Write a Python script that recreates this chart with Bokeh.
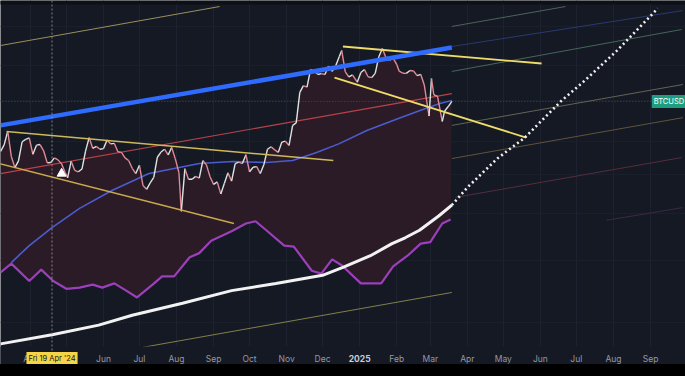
import numpy as np
import pandas as pd
from bokeh.plotting import figure
from bokeh.models import Range1d, FixedTicker, Span, Label, Spacer
from bokeh.layouts import column
from bokeh.core.properties import value
from bokeh.embed import file_html
from bokeh.resources import INLINE

# ---------------- data (BTCUSD, thousands of USD, log price scale) ----------------
price_dates = [
    "2024-03-07", "2024-03-10", "2024-03-13", "2024-03-16", "2024-03-19", "2024-03-22", "2024-03-25", "2024-03-28", "2024-03-31",
    "2024-04-03", "2024-04-06", "2024-04-09", "2024-04-12", "2024-04-15", "2024-04-18", "2024-04-21", "2024-04-24", "2024-04-27", "2024-04-30",
    "2024-05-02", "2024-05-05", "2024-05-08", "2024-05-11", "2024-05-14", "2024-05-17", "2024-05-20", "2024-05-23", "2024-05-26", "2024-05-29",
    "2024-06-01", "2024-06-04", "2024-06-07", "2024-06-10", "2024-06-13", "2024-06-16", "2024-06-19", "2024-06-22", "2024-06-25", "2024-06-28",
    "2024-07-01", "2024-07-04", "2024-07-07", "2024-07-10", "2024-07-13", "2024-07-16", "2024-07-19", "2024-07-22", "2024-07-25", "2024-07-28", "2024-07-31",
    "2024-08-03", "2024-08-05", "2024-08-08", "2024-08-11", "2024-08-14", "2024-08-17", "2024-08-20", "2024-08-23", "2024-08-26", "2024-08-29",
    "2024-09-01", "2024-09-04", "2024-09-07", "2024-09-10", "2024-09-13", "2024-09-16", "2024-09-19", "2024-09-22", "2024-09-25", "2024-09-28",
    "2024-10-01", "2024-10-04", "2024-10-07", "2024-10-10", "2024-10-13", "2024-10-16", "2024-10-19", "2024-10-22", "2024-10-25", "2024-10-28", "2024-10-31",
    "2024-11-03", "2024-11-06", "2024-11-09", "2024-11-12", "2024-11-15", "2024-11-18", "2024-11-21", "2024-11-24", "2024-11-27", "2024-11-30",
    "2024-12-03", "2024-12-06", "2024-12-09", "2024-12-12", "2024-12-15", "2024-12-17", "2024-12-20", "2024-12-23", "2024-12-26", "2024-12-30",
    "2025-01-02", "2025-01-05", "2025-01-08", "2025-01-11", "2025-01-14", "2025-01-17", "2025-01-20", "2025-01-23", "2025-01-26", "2025-01-29",
    "2025-02-01", "2025-02-03", "2025-02-06", "2025-02-09", "2025-02-12", "2025-02-15", "2025-02-18", "2025-02-21", "2025-02-24", "2025-02-26", "2025-02-28",
    "2025-03-02", "2025-03-04", "2025-03-07", "2025-03-11", "2025-03-13", "2025-03-16", "2025-03-19",
]
price_close = [
    66.9, 69.0, 73.6, 65.3, 62.0, 64.0, 70.0, 70.8, 71.3,
    66.0, 68.9, 69.1, 67.1, 63.4, 63.5, 64.9, 64.3, 63.1, 60.6,
    59.1, 63.9, 61.2, 60.8, 61.6, 67.0, 71.4, 67.9, 68.5, 67.6,
    67.8, 70.6, 69.3, 69.5, 66.8, 66.6, 64.9, 64.1, 61.8, 60.3,
    62.7, 57.0, 56.0, 57.7, 59.2, 65.1, 66.7, 67.6, 65.8, 68.2, 64.6,
    60.6, 50.5, 61.7, 58.7, 58.7, 59.5, 59.0, 64.1, 62.8, 59.4,
    57.3, 58.0, 54.8, 57.6, 60.5, 58.2, 63.2, 63.6, 63.2, 65.9,
    60.8, 62.1, 62.3, 60.3, 62.9, 67.6, 68.4, 67.4, 66.6, 69.9, 70.2,
    68.8, 75.6, 76.5, 88.3, 91.1, 90.5, 98.3, 97.7, 96.0, 96.4,
    96.0, 99.9, 97.4, 100.0, 104.5, 107.5, 97.2, 94.9, 95.8, 92.6,
    96.9, 98.3, 95.0, 94.6, 96.5, 104.4, 108.5, 103.7, 102.7, 103.7,
    100.6, 97.5, 96.6, 96.5, 97.8, 97.6, 95.5, 96.1, 91.4, 84.7, 79.0,
    94.2, 87.2, 86.7, 77.0, 80.9, 82.6, 84.6,
]
assert len(price_dates) == len(price_close)

# purple oscillator-style band (plotted on price scale)
purple_dates = ["2024-03-07", "2024-03-16", "2024-03-31", "2024-04-10", "2024-04-20", "2024-05-01", "2024-05-12",
                "2024-05-23", "2024-05-31", "2024-06-10", "2024-06-20", "2024-06-29", "2024-07-12", "2024-07-20",
                "2024-07-30", "2024-08-12", "2024-08-20", "2024-08-30", "2024-09-16", "2024-09-28", "2024-10-06",
                "2024-10-15", "2024-10-30", "2024-11-07", "2024-11-22", "2024-11-30", "2024-12-09", "2024-12-17",
                "2025-01-02", "2025-01-19", "2025-01-29", "2025-02-10", "2025-02-21", "2025-03-01", "2025-03-11", "2025-03-18"]
purple_vals = [37.9, 39.5, 36.4, 38.4, 36.4, 35.1, 35.3,
               35.8, 35.3, 36.0, 34.8, 33.7, 35.8, 37.2,
               37.2, 40.7, 41.5, 44.0, 46.0, 47.7, 48.2,
               46.2, 43.0, 42.8, 38.2, 37.7, 40.3, 39.2,
               36.0, 36.0, 39.0, 41.0, 43.4, 43.7, 47.7, 48.6]

# long moving average (blue-violet)
ma_dates = ["2024-03-16", "2024-03-31", "2024-04-19", "2024-05-12", "2024-06-08", "2024-07-09", "2024-08-20",
            "2024-09-17", "2024-10-15", "2024-11-06", "2024-11-26", "2024-12-15", "2025-01-07", "2025-02-04",
            "2025-02-25", "2025-03-09", "2025-03-19"]
ma_vals = [39.7, 43.0, 46.8, 51.2, 55.7, 60.3, 63.2, 63.8, 63.5, 64.1, 66.6, 69.4, 73.8, 78.4, 81.8, 83.8, 85.0]

# white power-law style curve and its dotted projection
curve_dates = ["2024-03-07", "2024-04-19", "2024-05-28", "2024-06-25", "2024-08-06", "2024-09-16", "2024-10-23",
               "2024-12-01", "2024-12-18", "2025-01-10", "2025-01-28", "2025-02-08", "2025-02-20", "2025-03-08",
               "2025-03-19"]
curve_vals = [27.1, 28.3, 29.6, 31.0, 32.8, 34.8, 36.0, 37.4, 38.8, 41.0, 43.4, 44.6, 46.2, 49.4, 52.0]
proj_dates = ["2025-03-19", "2025-04-01", "2025-04-26", "2025-05-19", "2025-06-18", "2025-07-08", "2025-08-04", "2025-09-07"]
proj_vals = [52.0, 56.5, 64.7, 71.4, 84.6, 93.3, 107.4, 130.9]

# straight trend lines: [start, end]
blue_trend_dates, blue_trend_vals = ["2024-03-07", "2025-03-19"], [75.6, 109.0]
blue_ext_dates, blue_ext_vals = ["2025-03-19", "2025-09-28"], [109.5, 129.6]
red_trend_dates, red_trend_vals = ["2024-03-07", "2025-03-19"], [60.3, 87.8]
yl_up_dates, yl_up_vals = ["2024-03-12", "2024-12-10"], [73.5, 64.1]
yl_lo_dates, yl_lo_vals = ["2024-03-06", "2024-09-18"], [63.2, 47.7]
yr_up_dates, yr_up_vals = ["2024-12-18", "2025-06-02"], [109.5, 101.1]
yr_lo_dates, yr_lo_vals = ["2024-12-11", "2025-05-20"], [94.6, 71.4]
top_dates, top_vals = ["2024-03-07", "2024-09-06"], [110.0, 132.1]
bottom_dates, bottom_vals = ["2024-06-20", "2025-03-19"], [26.3, 34.5]
fan_a_dates, fan_a_vals = ["2025-03-19", "2025-06-22"], [120.3, 132.1]
fan_c_dates, fan_c_vals = ["2025-03-19", "2025-09-27"], [97.4, 118.6]
fan_d_dates, fan_d_vals = ["2025-03-19", "2025-09-28"], [75.6, 91.6]
fan_f_dates, fan_f_vals = ["2025-03-19", "2025-09-28"], [64.7, 78.4]
fan_g_dates, fan_g_vals = ["2025-03-22", "2025-09-27"], [53.9, 65.0]
fan_h_dates, fan_h_vals = ["2025-07-26", "2025-09-28"], [48.4, 51.4]

signal_dates, signal_vals = ["2024-04-27"], [60.3]
cursor_date = "2024-04-19"
cursor_text = "Fri 19 Apr '24"
last_price = 84.6
symbol_text = "BTCUSD"

tick_dates = ["2024-04-01", "2024-05-01", "2024-06-01", "2024-07-01", "2024-08-01", "2024-09-01", "2024-10-01",
              "2024-11-01", "2024-12-01", "2025-01-01", "2025-02-01", "2025-03-01", "2025-04-01", "2025-05-01",
              "2025-06-01", "2025-07-01", "2025-08-01", "2025-09-01"]
tick_labels = ["Apr", "May", "Jun", "Jul", "Aug", "Sep", "Oct", "Nov", "Dec", "2025", "Feb", "Mar", "Apr", "May",
               "Jun", "Jul", "Aug", "Sep"]

# ---------------- figure ----------------
D = pd.to_datetime
BG = "#151924"
Y_LOW, Y_PLOT_LOW, Y_HIGH = 24.60, 26.77, 135.9   # canvas bottom, price-pane bottom, top
Y_TOOLBAR = 133.37                                  # bottom of the thin header strip
Y_LABEL = 25.30                                     # time-scale text row

p = figure(width=685, height=364, x_axis_type="datetime", y_axis_type="log",
           x_range=Range1d(D("2024-03-06 23:00"), D("2025-09-30 05:00")),
           y_range=Range1d(Y_LOW, Y_HIGH),
           output_backend="svg", toolbar_location=None,
           min_border_left=0, min_border_right=0, min_border_top=0, min_border_bottom=0)
p.background_fill_color = BG
p.border_fill_color = BG
p.outline_line_color = None
p.xaxis.visible = False
p.yaxis.visible = False

tick_ms = [int(D(t).value // 10**6) for t in tick_dates]
p.xgrid.ticker = FixedTicker(ticks=tick_ms)
p.xgrid.grid_line_color = "#1e2230"
p.ygrid.ticker = FixedTicker(ticks=[30, 40, 50, 60, 70, 85, 100, 120])
p.ygrid.grid_line_color = "#1b1f2b"

# maroon fill between price and purple line
fill_x = list(D(price_dates)) + list(D(purple_dates))[::-1]
fill_y = price_close + purple_vals[::-1]
p.patch(fill_x, fill_y, fill_color="#2b1b26", line_color=None)

def seg(dates, vals, color, width, alpha=1.0, dash="solid"):
    p.line(D(dates), vals, line_color=color, line_width=width, line_alpha=alpha, line_dash=dash)

# faint fan lines on the right
seg(fan_a_dates, fan_a_vals, "#5d7566", 1, 0.8)
seg(blue_ext_dates, blue_ext_vals, "#2c3d78", 1, 0.9)
seg(fan_c_dates, fan_c_vals, "#4d6e5f", 1, 0.9)
seg(fan_d_dates, fan_d_vals, "#6d6d5a", 1, 0.9)
seg(fan_f_dates, fan_f_vals, "#6a5a3c", 1, 0.9)
seg(fan_g_dates, fan_g_vals, "#5c3040", 1, 0.9)
seg(fan_h_dates, fan_h_vals, "#40294a", 1, 0.9)
seg(top_dates, top_vals, "#a89c62", 1, 0.9)
seg(bottom_dates, bottom_vals, "#8c8c4c", 1, 0.9)

# horizontal last-price line
p.line(D(["2024-03-06", "2025-09-30"]), [last_price, last_price], line_color="#2a6e5e",
       line_width=1, line_alpha=0.8, line_dash="1 2")

seg(red_trend_dates, red_trend_vals, "#b8434b", 1.2)
seg(ma_dates, ma_vals, "#4b5bd0", 1.6)

# price as coloured segments (up = light, down = red)
x0 = D(price_dates[:-1]); x1 = D(price_dates[1:])
y0 = price_close[:-1]; y1 = price_close[1:]
cols = ["#dde3e0" if b >= a else "#e08a96" for a, b in zip(y0, y1)]
p.segment(x0=x0, y0=y0, x1=x1, y1=y1, line_color=cols, line_width=1.4)

seg(purple_dates, purple_vals, "#9c3fba", 2.2)
seg(yl_up_dates, yl_up_vals, "#cdb95a", 1.5)
seg(yl_lo_dates, yl_lo_vals, "#c9a94c", 1.5)
seg(yr_up_dates, yr_up_vals, "#eedc6a", 1.8)
seg(yr_lo_dates, yr_lo_vals, "#eedc6a", 1.8)
seg(blue_trend_dates, blue_trend_vals, "#2f6bff", 4.5)
seg(curve_dates, curve_vals, "#f2f2f2", 3)
p.line(D(proj_dates), proj_vals, line_color="#f2f2f2", line_width=2.6, line_dash="2 3")

p.scatter(D(signal_dates), signal_vals, marker="triangle", size=9, color="#ffffff")

# ---- header strip and time-scale strip ----
p.quad(left=[D("2024-03-01")], right=[D("2025-10-10")], bottom=[Y_TOOLBAR], top=[Y_HIGH],
       fill_color="#0e1016", line_color=None)
p.quad(left=[D("2024-03-01")], right=[D("2025-10-10")], bottom=[Y_LOW], top=[Y_PLOT_LOW],
       fill_color=BG, line_color=None)

# crosshair vertical
p.add_layout(Span(location=D(cursor_date), dimension="height", line_color="#9a9a9a",
                  line_width=1, line_dash="2 2", line_alpha=0.8))

normal = [(d, t) for d, t in zip(tick_dates, tick_labels) if t != "2025"]
years = [(d, t) for d, t in zip(tick_dates, tick_labels) if t == "2025"]
p.text(x=D([d for d, _ in normal]), y=[Y_LABEL] * len(normal), text=[t for _, t in normal],
       text_color="#9598a1", text_font=value("Inter"), text_font_size="8.5px",
       text_align="center", text_baseline="middle")
p.text(x=D([d for d, _ in years]), y=[Y_LABEL] * len(years), text=[t for _, t in years],
       text_color="#c9ccd3", text_font=value("Inter"), text_font_size="8.5px", text_font_style="bold",
       text_align="center", text_baseline="middle")

# crosshair date tag on the time scale
p.add_layout(Label(x=D(cursor_date), y=Y_LABEL, text=cursor_text, text_color="#131722",
                   text_font="Inter", text_font_size="7.5px", text_align="center", text_baseline="middle",
                   background_fill_color="#f5d547", padding=2))

# symbol tag on the right
p.add_layout(Label(x=D("2025-09-02"), y=last_price, text=symbol_text, text_color="#ffffff",
                   text_font="Inter", text_font_size="7.5px", text_align="left", text_baseline="middle",
                   background_fill_color="#1f9e7f", padding=2))

layout = column(p, Spacer(width=685, height=12, styles={"background-color": "#000000"}))
open("out.html", "w").write(file_html(layout, INLINE))
